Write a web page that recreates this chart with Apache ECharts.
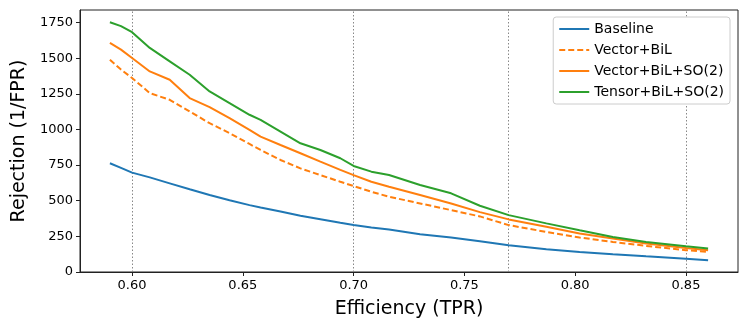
<!DOCTYPE html>
<html>
<head>
<meta charset="utf-8">
<script src="https://cdn.jsdelivr.net/npm/echarts@6/dist/echarts.min.js"></script>
<style>
  html, body { margin: 0; padding: 0; background: #fff; }
  #chart { width: 748px; height: 330px; }
</style>
</head>
<body>
<div id="chart"></div>
<script>
  // efficiency (TPR) values, shared by all curves
  const tpr = [0.590, 0.595, 0.600, 0.608, 0.617, 0.626, 0.635, 0.644, 0.653, 0.658, 0.667, 0.676, 0.685,
    0.694, 0.700, 0.708, 0.716, 0.730, 0.744, 0.757, 0.770, 0.787, 0.802, 0.817, 0.832, 0.850, 0.860];

  // rejection (1/FPR) per model
  const baseline = [763, 730, 697, 664, 622, 580, 540, 504, 469, 452, 425, 395, 370,
    345, 329, 312, 298, 265, 242, 216, 188, 160, 141, 125, 110, 93, 82];
  const vectorBiL = [1489, 1420, 1361, 1255, 1208, 1126, 1044, 974, 898, 856, 786, 727, 680,
    633, 603, 563, 528, 481, 434, 390, 329, 281, 242, 211, 183, 153, 141];
  const vectorBiLSO2 = [1607, 1560, 1501, 1407, 1349, 1220, 1157, 1079, 997, 950, 891, 833, 774,
    716, 680, 633, 598, 540, 481, 420, 369, 317, 270, 235, 200, 169, 153];
  const tensorBiLSO2 = [1752, 1725, 1682, 1572, 1478, 1384, 1267, 1185, 1103, 1067, 985, 903, 856,
    798, 744, 704, 680, 610, 552, 465, 399, 341, 293, 246, 211, 181, 165];

  const seriesNames = ['Baseline', 'Vector+BiL', 'Vector+BiL+SO(2)', 'Tensor+BiL+SO(2)'];
  const xTicks = [0.60, 0.65, 0.70, 0.75, 0.80, 0.85];
  const yTicks = [0, 250, 500, 750, 1000, 1250, 1500, 1750];
  const refLines = [0.60, 0.70, 0.77, 0.85];

  const zip = (ys) => ys.map((y, i) => [tpr[i], y]);
  const font = 'DejaVu Sans';

  const makeLine = (name, ys, color, type) => ({
    name: name,
    type: 'line',
    data: zip(ys),
    showSymbol: false,
    symbol: 'none',
    smooth: false,
    lineStyle: { color: color, width: 2, type: type },
    itemStyle: { color: color },
    z: 3
  });

  const series = [
    makeLine(seriesNames[0], baseline, '#1f77b4', 'solid'),
    makeLine(seriesNames[1], vectorBiL, '#ff7f0e', [6, 3]),
    makeLine(seriesNames[2], vectorBiLSO2, '#ff7f0e', 'solid'),
    makeLine(seriesNames[3], tensorBiLSO2, '#2ca02c', 'solid')
  ];
  series[0].markLine = {
    silent: true,
    symbol: 'none',
    label: { show: false },
    lineStyle: { color: '#888', width: 1, type: [1.5, 2] },
    data: refLines.map(v => ({ xAxis: v })),
    z: 1
  };

  const chart = echarts.init(document.getElementById('chart'));
  chart.setOption({
    animation: false,
    backgroundColor: '#fff',
    textStyle: { fontFamily: font },
    grid: {
      left: 80, right: 10, top: 10, bottom: 58,
      show: true, borderColor: '#222', borderWidth: 1
    },
    legend: {
      data: seriesNames,
      orient: 'vertical',
      right: 18, top: 17,
      padding: [5, 6, 5, 5],
      itemGap: 7,
      itemWidth: 30, itemHeight: 14,
      backgroundColor: '#fff',
      borderColor: '#ccc', borderWidth: 1, borderRadius: 3,
      itemStyle: { opacity: 0, borderWidth: 0 },
      textStyle: { fontFamily: font, fontSize: 14, color: '#000' }
    },
    xAxis: {
      type: 'value',
      min: 0.5765, max: 0.8735,
      name: 'Efficiency (TPR)',
      nameLocation: 'middle', nameGap: 28,
      nameTextStyle: { fontFamily: font, fontSize: 19, color: '#000' },
      axisLine: { lineStyle: { color: '#222', width: 1 } },
      axisTick: { customValues: xTicks, length: 4, inside: false, lineStyle: { color: '#222' } },
      axisLabel: { customValues: xTicks, formatter: v => v.toFixed(2), fontSize: 13, color: '#000', margin: 7 },
      splitLine: { show: false }
    },
    yAxis: {
      type: 'value',
      min: 0, max: 1838,
      name: 'Rejection (1/FPR)',
      nameLocation: 'middle', nameGap: 49,
      nameTextStyle: { fontFamily: font, fontSize: 19, color: '#000' },
      axisLine: { show: true, lineStyle: { color: '#222', width: 1 } },
      axisTick: { show: true, customValues: yTicks, length: 4, lineStyle: { color: '#222' } },
      axisLabel: { customValues: yTicks, formatter: v => String(v), fontSize: 13, color: '#000', margin: 7 },
      splitLine: { show: false }
    },
    series: series
  });
</script>
</body>
</html>
